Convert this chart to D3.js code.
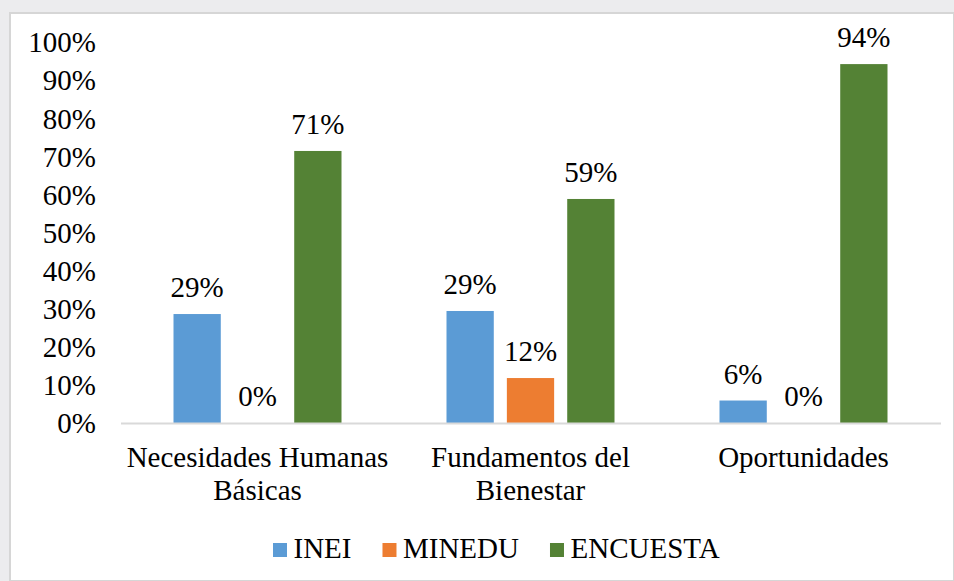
<!DOCTYPE html>
<html>
<head>
<meta charset="utf-8">
<script src="https://cdn.jsdelivr.net/npm/d3@7"></script>
<style>
  body { margin: 0; background: #ececee; }
</style>
</head>
<body>
<script>
const width = 954,
    height = 581;
const FONT = '"Liberation Serif", "Times New Roman", serif';

// data
const categories = [["Necesidades Humanas", "Básicas"], ["Fundamentos del", "Bienestar"], ["Oportunidades"]];
const seriesNames = ["INEI", "MINEDU", "ENCUESTA"];
const inei = [0.286, 0.294, 0.059];
const minedu = [0, 0.118, 0];
const encuesta = [0.714, 0.588, 0.942];
const yTicks = [0, 0.1, 0.2, 0.3, 0.4, 0.5, 0.6, 0.7, 0.8, 0.9, 1];
const colors = ["#5b9bd5", "#ed7d31", "#548235"];

const seriesValues = [inei, minedu, encuesta];

var svg = d3.select("body").append("svg")
    .attr("width", width)
    .attr("height", height)
    .style("font-family", FONT);

// background + chart box
svg.append("rect").attr("width", width).attr("height", height).attr("fill", "#ececee");
svg.append("rect")
    .attr("x", 10).attr("y", 13)
    .attr("width", width - 10).attr("height", height - 13)
    .attr("fill", "#fff")
    .attr("stroke", "#d6d6d6")
    .attr("stroke-width", 2);

var x0 = d3.scaleBand()
    .domain(d3.range(categories.length))
    .range([121, 940])
    .padding(0);

var x1 = d3.scaleBand()
    .domain(seriesNames)
    .range([52.5, 220.5])
    .paddingInner(13 / 60)
    .paddingOuter(0);

var y = d3.scaleLinear()
    .domain([0, 1])
    .range([423, 42]);

// y axis labels
var yAxis = d3.axisLeft(y)
    .tickValues(yTicks)
    .tickFormat(d3.format(".0%"))
    .tickSize(0)
    .tickPadding(0);

var gy = svg.append("g")
    .attr("transform", "translate(96,0)")
    .call(yAxis)
    .attr("font-family", null)
    .attr("font-size", null);
gy.select(".domain").remove();
gy.selectAll("text")
    .style("font-family", FONT)
    .style("font-size", "29px")
    .attr("fill", "#000")
    .attr("dy", "0.34em");

// bars
var groups = svg.append("g")
    .selectAll("g")
    .data(categories.map((c, i) => i))
  .enter().append("g")
    .attr("transform", i => `translate(${x0(i)},0)`);

groups.selectAll("rect")
    .data(i => seriesNames.map((s, j) => ({s: s, j: j, v: seriesValues[j][i]})))
  .enter().append("rect")
    .attr("x", d => x1(d.s))
    .attr("y", d => y(d.v))
    .attr("width", x1.bandwidth())
    .attr("height", d => y(0) - y(d.v))
    .attr("fill", d => colors[d.j]);

groups.selectAll("text")
    .data(i => seriesNames.map((s, j) => ({s: s, j: j, v: seriesValues[j][i]})))
  .enter().append("text")
    .attr("x", d => x1(d.s) + x1.bandwidth() / 2)
    .attr("y", d => y(d.v) - 17)
    .attr("text-anchor", "middle")
    .style("font-family", FONT)
    .style("font-size", "29px")
    .text(d => Math.round(d.v * 100) + "%");

// x axis line
svg.append("line")
    .attr("x1", 121).attr("x2", 941)
    .attr("y1", y(0) + 0.5).attr("y2", y(0) + 0.5)
    .attr("stroke", "#d9d9d9")
    .attr("stroke-width", 2);

// category labels
svg.append("g").selectAll("text")
    .data(categories)
  .enter().append("text")
    .attr("x", (c, i) => x0(i) + x0.bandwidth() / 2)
    .attr("y", 467)
    .attr("text-anchor", "middle")
    .style("font-family", FONT)
    .style("font-size", "29px")
    .selectAll("tspan")
    .data(c => c)
  .enter().append("tspan")
    .attr("x", function() { return this.parentNode.getAttribute("x"); })
    .attr("dy", (d, k) => k === 0 ? 0 : 33)
    .text(d => d);

// legend
var legend = svg.append("g").attr("transform", "translate(273,0)");
var lx = 0;
seriesNames.forEach((name, j) => {
    legend.append("rect")
        .attr("x", lx).attr("y", 543)
        .attr("width", 14).attr("height", 14)
        .attr("fill", colors[j]);
    var t = legend.append("text")
        .attr("x", lx + 20.5)
        .attr("y", 558)
        .style("font-family", FONT)
        .style("font-size", "29px")
        .text(name);
    lx += 20.5 + t.node().getComputedTextLength() + 31;
});
</script>
</body>
</html>
